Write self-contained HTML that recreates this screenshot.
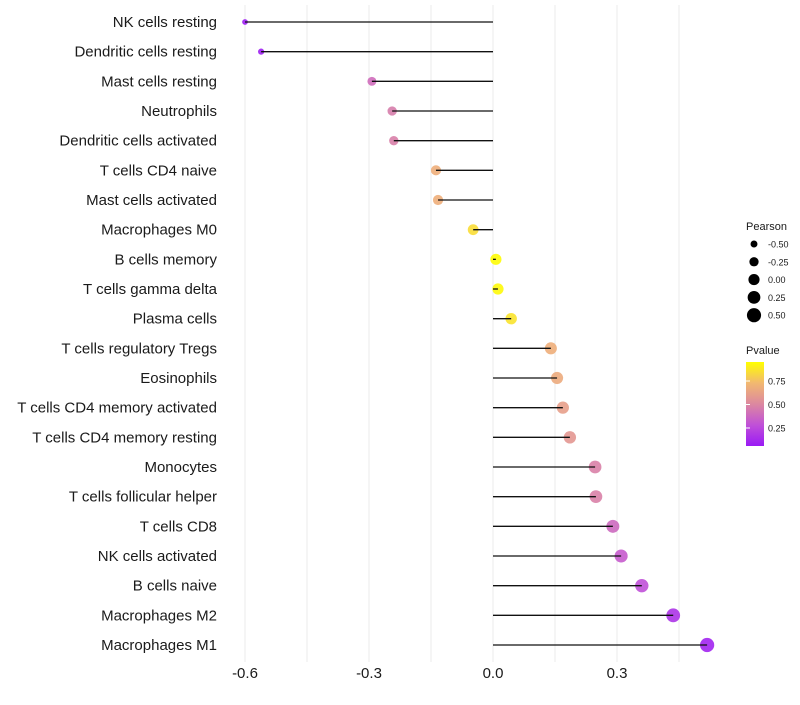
<!DOCTYPE html>
<html><head><meta charset="utf-8"><style>
body{margin:0;background:#fff}
svg text{font-family:"Liberation Sans",sans-serif}
</style></head><body>
<svg id="chart" width="800" height="700" xmlns="http://www.w3.org/2000/svg">
<g id="grid"></g>
<g id="ylabels"></g>
<g id="marks"></g>
<g id="xlabels"></g>
<g>
<text x="746" y="230" font-size="11" fill="#1a1a1a">Pearson</text>
<g id="sizeleg"></g>
</g>
<g>
<defs><linearGradient id="pg" x1="0" y1="1" x2="0" y2="0">
<stop offset="0" stop-color="#9a1af5"/><stop offset="0.25" stop-color="#c050d8"/><stop offset="0.5" stop-color="#dc88a0"/><stop offset="0.75" stop-color="#f2b870"/><stop offset="1" stop-color="#ffff00"/></linearGradient></defs>
<text x="746" y="354" font-size="11" fill="#1a1a1a">Pvalue</text>
<rect x="746" y="362" width="18" height="84" fill="url(#pg)"/>
<g id="pleg"></g>
</g>
</svg>
<script>
const categories=["NK cells resting","Dendritic cells resting","Mast cells resting","Neutrophils","Dendritic cells activated","T cells CD4 naive","Mast cells activated","Macrophages M0","B cells memory","T cells gamma delta","Plasma cells","T cells regulatory  Tregs ","Eosinophils","T cells CD4 memory activated","T cells CD4 memory resting","Monocytes","T cells follicular helper","T cells CD8","NK cells activated","B cells naive","Macrophages M2","Macrophages M1"];
const pearson=[-0.60,-0.561,-0.293,-0.244,-0.24,-0.138,-0.133,-0.048,0.007,0.012,0.044,0.14,0.155,0.169,0.186,0.247,0.249,0.29,0.31,0.36,0.436,0.518];
const pvalue=[0.02,0.03,0.38,0.45,0.46,0.7,0.7,0.88,0.99,0.98,0.9,0.7,0.68,0.62,0.58,0.47,0.47,0.36,0.3,0.25,0.12,0.05];
const xTicks=[-0.6,-0.3,0.0,0.3];
const xTickLabels=["-0.6","-0.3","0.0","0.3"];
const sizeLegendValues=[-0.5,-0.25,0,0.25,0.5];
const sizeLegendLabels=["-0.50","-0.25","0.00","0.25","0.50"];
const pLegendValues=[0.75,0.5,0.25];
const pLegendLabels=["0.75","0.50","0.25"];
const NS="http://www.w3.org/2000/svg";
const X=v=>493+v*413.33;
const Y=i=>22+i*(623/21);
const R=v=>Math.sqrt(Math.max(31+38*v,4));
const stops=[[0,[154,26,245]],[0.25,[192,80,216]],[0.5,[220,136,160]],[0.75,[242,184,112]],[1,[255,255,0]]];
function col(p){for(let i=1;i<stops.length;i++){if(p<=stops[i][0]){const a=stops[i-1],b=stops[i],t=(p-a[0])/(b[0]-a[0]);return "rgb("+a[1].map((c,k)=>Math.round(c+(b[1][k]-c)*t)).join(",")+")";}}return "rgb(255,255,0)";}
function mk(t,at,parent){const e=document.createElementNS(NS,t);for(const k in at)e.setAttribute(k,at[k]);parent.appendChild(e);return e;}
const grid=document.getElementById('grid'),yl=document.getElementById('ylabels'),marks=document.getElementById('marks'),xl=document.getElementById('xlabels');
for(let v=-0.6;v<=0.46;v+=0.15){const g=mk('line',{x1:X(v),x2:X(v),y1:5,y2:662,stroke:'#ebebeb','stroke-width':1},grid);

}
xTicks.forEach((v,i)=>{const t=mk('text',{x:X(v),y:678,'font-size':15,'text-anchor':'middle',fill:'#1a1a1a'},xl);t.textContent=xTickLabels[i];

});
categories.forEach((c,i)=>{const y=Y(i);
const t=mk('text',{x:217,y:y+5,'font-size':15,'text-anchor':'end',fill:'#1a1a1a'},yl);t.textContent=c;


const d=mk('circle',{cx:X(pearson[i]),cy:y,r:R(pearson[i]),fill:col(pvalue[i]),'fill-opacity':0.9},marks);


const l=mk('line',{x1:X(0),x2:X(pearson[i]),y1:y,y2:y,stroke:'#111','stroke-width':1.3},marks);

});
const sl=document.getElementById('sizeleg');
sizeLegendValues.forEach((v,i)=>{const y=244+i*17.8;
const c=mk('circle',{cx:754,cy:y,r:R(v),fill:'#000'},sl);


const t=mk('text',{x:768,y:y+3.5,'font-size':9,fill:'#1a1a1a'},sl);t.textContent=sizeLegendLabels[i];

});
const pl=document.getElementById('pleg');
pLegendValues.forEach((v,i)=>{const y=451.5-v*94;
const k=mk('line',{x1:746,x2:750,y1:y,y2:y,stroke:'#fff','stroke-width':1},pl);


const t=mk('text',{x:768,y:y+3.5,'font-size':9,fill:'#1a1a1a'},pl);t.textContent=pLegendLabels[i];

});
</script>
</body></html>
